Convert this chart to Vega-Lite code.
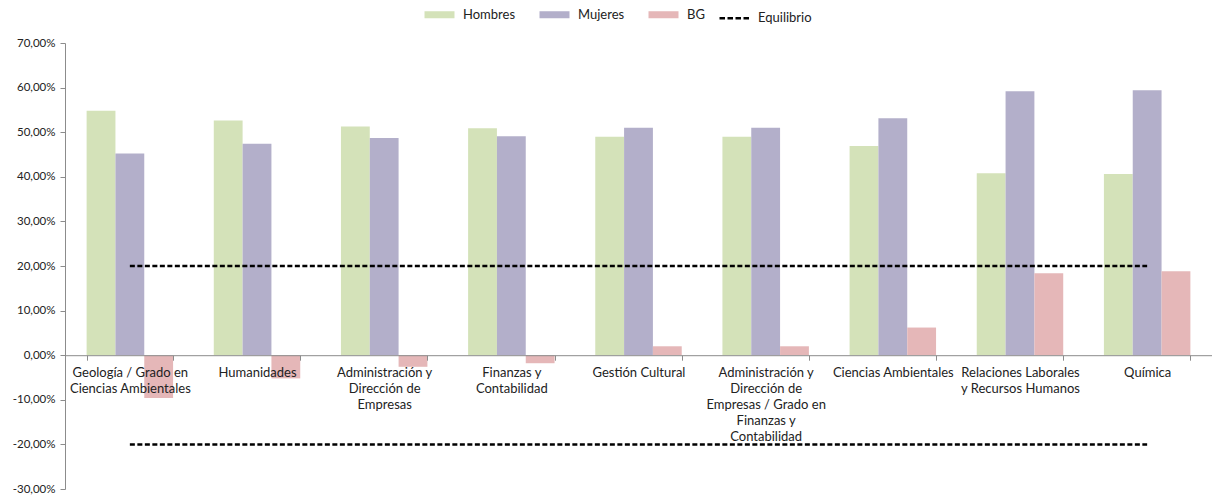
{
  "$schema": "https://vega.github.io/schema/vega-lite/v6.json",
  "width": 1147,
  "height": 446,
  "autosize": {"type": "none"},
  "padding": {"left": 65, "top": 43, "right": 0, "bottom": 11},
  "background": "white",
  "config": {
    "font": "Lato",
    "view": {"stroke": null},
    "axis": {"labelFont": "Lato", "labelFontSize": 12, "labelColor": "#222", "title": null, "grid": false, "domainColor": "#8c8c8c", "tickColor": "#8c8c8c"},
    "legend": {"labelFont": "Lato", "labelFontSize": 13, "labelColor": "#222"}
  },
  "datasets": {
    "valores": [
      {"cat": "Geología / Grado en Ciencias Ambientales", "serie": "Hombres", "valor": 54.8},
      {"cat": "Geología / Grado en Ciencias Ambientales", "serie": "Mujeres", "valor": 45.2},
      {"cat": "Geología / Grado en Ciencias Ambientales", "serie": "BG", "valor": -9.6},
      {"cat": "Humanidades", "serie": "Hombres", "valor": 52.6},
      {"cat": "Humanidades", "serie": "Mujeres", "valor": 47.4},
      {"cat": "Humanidades", "serie": "BG", "valor": -5.2},
      {"cat": "Administración y Dirección de Empresas", "serie": "Hombres", "valor": 51.3},
      {"cat": "Administración y Dirección de Empresas", "serie": "Mujeres", "valor": 48.7},
      {"cat": "Administración y Dirección de Empresas", "serie": "BG", "valor": -2.6},
      {"cat": "Finanzas y Contabilidad", "serie": "Hombres", "valor": 50.9},
      {"cat": "Finanzas y Contabilidad", "serie": "Mujeres", "valor": 49.1},
      {"cat": "Finanzas y Contabilidad", "serie": "BG", "valor": -1.8},
      {"cat": "Gestión Cultural", "serie": "Hombres", "valor": 49.0},
      {"cat": "Gestión Cultural", "serie": "Mujeres", "valor": 51.0},
      {"cat": "Gestión Cultural", "serie": "BG", "valor": 2.0},
      {"cat": "Administración y Dirección de Empresas / Grado en Finanzas y Contabilidad", "serie": "Hombres", "valor": 49.0},
      {"cat": "Administración y Dirección de Empresas / Grado en Finanzas y Contabilidad", "serie": "Mujeres", "valor": 51.0},
      {"cat": "Administración y Dirección de Empresas / Grado en Finanzas y Contabilidad", "serie": "BG", "valor": 2.0},
      {"cat": "Ciencias Ambientales", "serie": "Hombres", "valor": 46.9},
      {"cat": "Ciencias Ambientales", "serie": "Mujeres", "valor": 53.1},
      {"cat": "Ciencias Ambientales", "serie": "BG", "valor": 6.2},
      {"cat": "Relaciones Laborales y Recursos Humanos", "serie": "Hombres", "valor": 40.8},
      {"cat": "Relaciones Laborales y Recursos Humanos", "serie": "Mujeres", "valor": 59.2},
      {"cat": "Relaciones Laborales y Recursos Humanos", "serie": "BG", "valor": 18.4},
      {"cat": "Química", "serie": "Hombres", "valor": 40.6},
      {"cat": "Química", "serie": "Mujeres", "valor": 59.4},
      {"cat": "Química", "serie": "BG", "valor": 18.8}
    ],
    "equilibrio": [
      {"cat": "Geología / Grado en Ciencias Ambientales", "nivel": "sup", "valor": 20},
      {"cat": "Química", "nivel": "sup", "valor": 20},
      {"cat": "Geología / Grado en Ciencias Ambientales", "nivel": "inf", "valor": -20},
      {"cat": "Química", "nivel": "inf", "valor": -20}
    ]
  },
  "encoding": {
    "x": {
      "field": "cat",
      "type": "nominal",
      "sort": null,
      "scale": {
        "domain": ["Geología / Grado en Ciencias Ambientales", "Humanidades", "Administración y Dirección de Empresas", "Finanzas y Contabilidad", "Gestión Cultural", "Administración y Dirección de Empresas / Grado en Finanzas y Contabilidad", "Ciencias Ambientales", "Relaciones Laborales y Recursos Humanos", "Química"],
        "paddingInner": 0.32,
        "paddingOuter": 0.17
      },
      "axis": {
        "labelAngle": 0,
        "offset": -133.8,
        "zindex": 1,
        "tickBand": "extent",
        "tickSize": 5,
        "labelPadding": 6,
        "labelFontSize": 13,
        "labelLineHeight": 16.2,
        "labelBaseline": "top",
        "labelLimit": 0,
        "labelExpr": "datum.value === 'Geología / Grado en Ciencias Ambientales' ? ['Geología / Grado en', 'Ciencias Ambientales'] : datum.value === 'Administración y Dirección de Empresas' ? ['Administración y', 'Dirección de', 'Empresas'] : datum.value === 'Finanzas y Contabilidad' ? ['Finanzas y', 'Contabilidad'] : datum.value === 'Administración y Dirección de Empresas / Grado en Finanzas y Contabilidad' ? ['Administración y', 'Dirección de', 'Empresas / Grado en', 'Finanzas y', 'Contabilidad'] : datum.value === 'Relaciones Laborales y Recursos Humanos' ? ['Relaciones Laborales', 'y Recursos Humanos'] : datum.value"
      }
    },
    "y": {
      "field": "valor",
      "type": "quantitative",
      "scale": {"domain": [-30, 70], "nice": false},
      "axis": {
        "values": [-30, -20, -10, 0, 10, 20, 30, 40, 50, 60, 70],
        "tickSize": 5,
        "labelPadding": 5,
        "labelFontSize": 11.5,
        "labelExpr": "replace(replace(format(datum.value, '.2f'), '.', ','), '\u2212', '-') + '%'"
      }
    }
  },
  "layer": [
    {
      "data": {"name": "valores"},
      "mark": {"type": "bar"},
      "encoding": {
        "xOffset": {"field": "serie", "type": "nominal", "sort": ["Hombres", "Mujeres", "BG"], "scale": {"domain": ["Hombres", "Mujeres", "BG"], "paddingInner": 0, "paddingOuter": 0}},
        "color": {
          "field": "serie",
          "type": "nominal",
          "scale": {"domain": ["Hombres", "Mujeres", "BG", "Equilibrio"], "range": ["#d4e2b9", "#b3afca", "#e5b7b8", "#000000"]},
          "legend": {
            "title": null,
            "orient": "none",
            "direction": "horizontal",
            "legendX": 368,
            "legendY": -35,
            "symbolType": "stroke",
            "symbolSize": 900,
            "symbolStrokeWidth": 7,
            "columnPadding": 9,
            "labelOffset": 17,
            "encode": {
              "symbols": {
                "update": {
                  "stroke": {"scale": "color", "field": "value"},
                  "strokeWidth": {"signal": "datum.value === 'Equilibrio' ? 2.5 : 7"},
                  "strokeDash": {"signal": "datum.value === 'Equilibrio' ? [5.5, 2.5] : [1, 0]"}
                }
              }
            }
          }
        }
      }
    },
    {
      "data": {"name": "equilibrio"},
      "mark": {"type": "line", "strokeDash": [5, 2.5], "strokeWidth": 2.5},
      "encoding": {
        "detail": {"field": "nivel", "type": "nominal"},
        "color": {"datum": "Equilibrio"}
      }
    }
  ]
}
